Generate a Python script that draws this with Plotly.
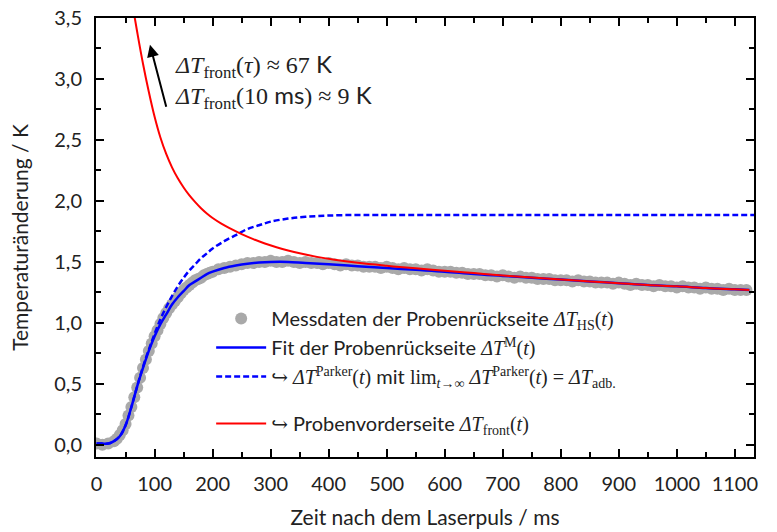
import plotly.graph_objects as go

# ---- data ----
t_meas = ([0, 10, 20] + list(range(30, 201, 5)) + list(range(210, 1121, 10)))
T_meas = [0.01, 0.00, 0.01,
          0.03, 0.05, 0.08, 0.12, 0.17, 0.24, 0.31, 0.39, 0.47, 0.55,
          0.63, 0.70, 0.77, 0.83, 0.89, 0.94, 0.99, 1.04, 1.08, 1.12,
          1.15, 1.18, 1.21, 1.24, 1.27, 1.29, 1.31, 1.33, 1.35, 1.36,
          1.37, 1.39, 1.40, 1.41, 1.42,
          1.44, 1.45, 1.46, 1.47, 1.48, 1.49, 1.49, 1.50, 1.50,
          1.51, 1.50, 1.50, 1.51, 1.50, 1.49, 1.50, 1.49, 1.49, 1.48,
          1.49, 1.48, 1.47, 1.48, 1.47, 1.47, 1.46, 1.46, 1.46, 1.45,
          1.46, 1.45, 1.44, 1.45, 1.44, 1.44, 1.43, 1.44, 1.43, 1.42,
          1.42, 1.42, 1.41, 1.41, 1.40, 1.40, 1.40, 1.39, 1.39, 1.38,
          1.39, 1.38, 1.37, 1.38, 1.37, 1.37, 1.36, 1.36, 1.36, 1.35,
          1.35, 1.35, 1.34, 1.35, 1.34, 1.34, 1.33, 1.33, 1.33, 1.32,
          1.33, 1.32, 1.31, 1.32, 1.31, 1.31, 1.30, 1.31, 1.30, 1.30,
          1.29, 1.30, 1.29, 1.29, 1.28, 1.29, 1.28, 1.28, 1.27, 1.28,
          1.27, 1.27, 1.27]

t_fit = [0, 10, 20, 30, 40, 50, 60, 70, 80, 90, 100, 110, 120, 130, 140, 150,
         160, 170, 180, 190, 200, 220, 240, 260, 280, 300, 330, 360, 400, 450,
         500, 550, 600, 650, 700, 750, 800, 850, 900, 950, 1000, 1050, 1100, 1125]
T_fit = [0.01, 0.01, 0.01, 0.03, 0.07, 0.16, 0.31, 0.48, 0.63, 0.77, 0.89, 0.99,
         1.07, 1.15, 1.21, 1.26, 1.31, 1.34, 1.37, 1.40, 1.42, 1.45, 1.47, 1.485,
         1.495, 1.50, 1.50, 1.49, 1.48, 1.465, 1.45, 1.435, 1.42, 1.40, 1.385,
         1.37, 1.355, 1.34, 1.325, 1.31, 1.30, 1.285, 1.275, 1.27]

t_parker = [0, 10, 20, 30, 40, 50, 60, 70, 80, 90, 100, 110, 120, 130, 140, 150,
            160, 170, 180, 190, 200, 220, 240, 260, 280, 300, 330, 360, 400, 450,
            500, 700, 900, 1133]
T_parker = [0.01, 0.01, 0.01, 0.03, 0.07, 0.16, 0.31, 0.48, 0.64, 0.78, 0.91, 1.03,
            1.13, 1.22, 1.30, 1.37, 1.43, 1.48, 1.53, 1.57, 1.61, 1.67, 1.72, 1.77,
            1.80, 1.83, 1.855, 1.87, 1.88, 1.885, 1.885, 1.885, 1.885, 1.885]

t_front = [64, 70, 80, 90, 100, 110, 120, 130, 140, 150, 160, 170, 180, 190, 200,
           215, 230, 250, 270, 290, 310, 330, 352, 380, 410, 450, 500, 550, 600,
           650, 700, 750, 800, 850, 900, 950, 1000, 1050, 1100, 1125]
T_front = [3.55, 3.385, 3.125, 2.895, 2.69, 2.52, 2.385, 2.275, 2.185, 2.11, 2.045,
           1.99, 1.94, 1.897, 1.86, 1.814, 1.775, 1.728, 1.687, 1.651, 1.62, 1.593,
           1.568, 1.541, 1.517, 1.492, 1.468, 1.447, 1.428, 1.408, 1.388, 1.371,
           1.355, 1.34, 1.325, 1.31, 1.30, 1.285, 1.275, 1.27]

x_ticks = list(range(0, 1101, 100))
y_ticks = [0.0, 0.5, 1.0, 1.5, 2.0, 2.5, 3.0, 3.5]

SERIF = "'Liberation Serif', 'DejaVu Serif', serif"
def m(s):
    return f"<span style=\"font-family:{SERIF}\">{s}</span>"

fig = go.Figure()
fig.add_trace(go.Scatter(
    x=t_meas, y=T_meas, mode="markers",
    marker=dict(color="#a9a9a9", size=12, line=dict(width=0)),
    name="Messdaten der Probenrückseite " + m("<i>ΔT</i><sub>HS</sub>(<i>t</i>)"),
    legendgroup="a"))
fig.add_trace(go.Scatter(
    x=t_fit, y=T_fit, mode="lines", line=dict(color="#0000ff", width=2.5, shape="spline"),
    name="Fit der Probenrückseite " + m("<i>ΔT</i><sup>M</sup>(<i>t</i>)"),
    legendgroup="a"))
fig.add_trace(go.Scatter(
    x=t_parker, y=T_parker, mode="lines",
    line=dict(color="#0000ff", width=2.5, dash="6px,3px", shape="spline"),
    name=m("↪ <i>ΔT</i><sup>Parker</sup>(<i>t</i>)") + " mit "
         + m("lim<sub><i>t</i>→∞</sub> <i>ΔT</i><sup>Parker</sup>(<i>t</i>) = <i>ΔT</i><sub>adb.</sub>"),
    legendgroup="a"))
fig.add_trace(go.Scatter(
    x=t_front, y=T_front, mode="lines", line=dict(color="#ff0000", width=2, shape="spline"),
    name=m("↪") + " Probenvorderseite " + m("<i>ΔT</i><sub>front</sub>(<i>t</i>)"),
    legendgroup="b"))

fig.add_annotation(x=92, y=3.28, ax=120.7, ay=2.76, xref="x", yref="y",
                   axref="x", ayref="y", showarrow=True, arrowhead=2,
                   arrowsize=1.2, arrowwidth=2, arrowcolor="black", text="")
fig.add_annotation(x=131, y=3.11, xref="x", yref="y", xanchor="left",
                   showarrow=False, font=dict(size=24, color="#222"),
                   text=m("<i>ΔT</i><sub>front</sub>(<i>τ</i>) ≈ 67") + " K")
fig.add_annotation(x=131, y=2.86, xref="x", yref="y", xanchor="left",
                   showarrow=False, font=dict(size=24, color="#222"),
                   text=m("<i>ΔT</i><sub>front</sub>(10") + " ms" + m(") ≈ 9") + " K")

axis_common = dict(showline=True, linecolor="black", linewidth=2, mirror="allticks",
                   ticks="inside", ticklen=8, tickwidth=2, tickcolor="black",
                   showgrid=False, zeroline=False, ticklabelstandoff=8,
                   automargin=False,
                   tickfont=dict(size=20, color="#222"))
fig.update_xaxes(range=[-1, 1133], tickvals=x_ticks,
                 minor=dict(dtick=50, ticks="inside", ticklen=5, tickwidth=2,
                            tickcolor="black", showgrid=False),
                 title=dict(text="Zeit nach dem Laserpuls / ms", font=dict(size=21, color="#222"),
                            standoff=16),
                 **axis_common)
fig.update_yaxes(range=[-0.1, 3.5], tickvals=y_ticks, tickformat=".1f",
                 minor=dict(dtick=0.25, tick0=0, ticks="inside", ticklen=5, tickwidth=2,
                            tickcolor="black", showgrid=False),
                 title=dict(text="Temperaturänderung / K", font=dict(size=21, color="#222"),
                            standoff=20),
                 **axis_common)

fig.update_layout(
    width=777, height=532,
    margin=dict(l=96, r=23, t=18, b=75),
    paper_bgcolor="white", plot_bgcolor="white",
    separators=",.",
    font=dict(family="Lato, 'DejaVu Sans', sans-serif", size=20, color="#222"),
    legend=dict(x=0.175, y=0.36, xanchor="left", yanchor="top",
                bgcolor="rgba(0,0,0,0)", font=dict(size=20, color="#222"),
                tracegroupgap=18, traceorder="grouped", itemwidth=50),
    showlegend=True,
)

fig.write_html("out.html")
